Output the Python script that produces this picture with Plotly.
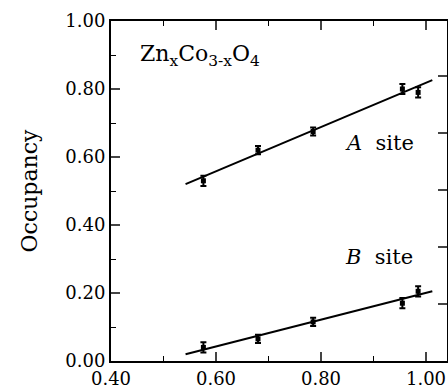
import plotly.graph_objects as go

x_pts = [0.576, 0.68, 0.785, 0.955, 0.985]
a_site = [0.53, 0.62, 0.675, 0.80, 0.79]
b_site = [0.04, 0.065, 0.115, 0.17, 0.205]
err = [0.015, 0.012, 0.012, 0.015, 0.015]
a_fit_x = [0.542, 1.012]
a_fit_y = [0.52, 0.826]
b_fit_x = [0.542, 1.012]
b_fit_y = [0.02, 0.205]
x_ticks = [0.40, 0.60, 0.80, 1.00]
y_ticks = [0.00, 0.20, 0.40, 0.60, 0.80, 1.00]

font_fam = "DejaVu Serif"
fig = go.Figure()
for fx, fy in [(a_fit_x, a_fit_y), (b_fit_x, b_fit_y)]:
    fig.add_trace(go.Scatter(x=fx, y=fy, mode="lines",
                             line=dict(color="black", width=2), showlegend=False))
for ys in [a_site, b_site]:
    fig.add_trace(go.Scatter(x=x_pts, y=ys, mode="markers",
                             marker=dict(symbol="square", size=5, color="black"),
                             error_y=dict(type="data", array=err, color="black",
                                          thickness=2, width=3),
                             showlegend=False))
# invisible trace for right axis
fig.add_trace(go.Scatter(x=[0.4], y=[0], yaxis="y2", mode="markers",
                         marker=dict(opacity=0), showlegend=False, hoverinfo="skip"))

fig.update_layout(
    width=448, height=390,
    margin=dict(l=111, r=1, t=21, b=29),
    plot_bgcolor="white", paper_bgcolor="white",
    font=dict(family=font_fam, color="black", size=18),
    xaxis=dict(range=[0.4, 1.04], tickvals=x_ticks, ticktext=[f"{v:.2f}" for v in x_ticks],
               ticks="inside", ticklen=9, tickwidth=1.5, showline=True, linewidth=2,
               linecolor="black", mirror="ticks", showgrid=False, zeroline=False,
               minor=dict(dtick=0.1, tick0=0.4, ticks="inside", ticklen=5, tickwidth=1.2,
                          tickcolor="black", showgrid=False),
               tickfont=dict(size=18)),
    yaxis=dict(range=[0, 1.0], tickvals=y_ticks, ticktext=[f"{v:.2f}" for v in y_ticks],
               ticks="inside", ticklen=9, tickwidth=1.5, showline=True, linewidth=2,
               linecolor="black", mirror=False, showgrid=False, zeroline=False,
               minor=dict(dtick=0.1, tick0=0, ticks="inside", ticklen=5, tickwidth=1.2,
                          tickcolor="black", showgrid=False),
               title=dict(text="Occupancy", font=dict(size=22), standoff=22),
               tickfont=dict(size=18)),
    yaxis2=dict(overlaying="y", side="right", range=[0, 340 / 57], dtick=1,
                ticks="inside", ticklen=9, tickwidth=1.5, showline=True, linewidth=1.5,
                linecolor="black", showticklabels=False, showgrid=False, zeroline=False),
)

fig.add_annotation(x=0.451, y=0.90, xref="x", yref="y", xanchor="left",
                   text="Zn<sub>x</sub>Co<sub>3-x</sub>O<sub>4</sub>", showarrow=False,
                   font=dict(size=22))
fig.add_annotation(x=0.842, y=0.641, xref="x", yref="y", xanchor="left",
                   text="<i>A</i>  site", showarrow=False, font=dict(size=21))
fig.add_annotation(x=0.842, y=0.306, xref="x", yref="y", xanchor="left",
                   text="<i>B</i>  site", showarrow=False, font=dict(size=21))

fig.write_html("out.html")
